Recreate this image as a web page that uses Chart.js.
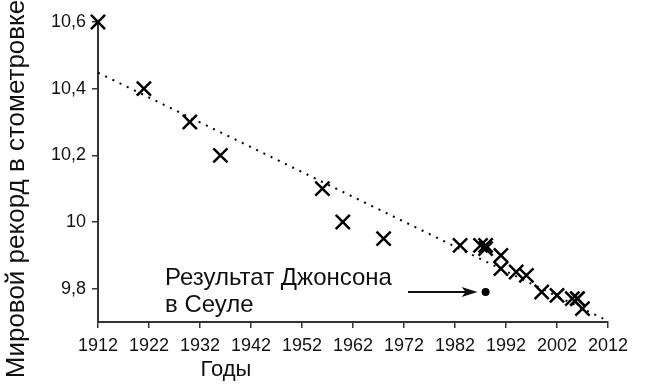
<!DOCTYPE html>
<html>
<head>
<meta charset="utf-8">
<script src="https://cdn.jsdelivr.net/npm/chart.js@4"></script>
<style>
  html, body { margin: 0; padding: 0; background: #fff; }
  #wrap { width: 650px; height: 390px; }
</style>
</head>
<body>
<div id="wrap"><canvas id="chart"></canvas></div>
<script>
// Мировые рекорды в беге на 100 м
const recordYears = [1912, 1921, 1930, 1936, 1956, 1960, 1968, 1983, 1987, 1988, 1988, 1991, 1991, 1994, 1996, 1999, 2002, 2005, 2006, 2006, 2007];
const recordTimes = [10.6, 10.4, 10.3, 10.2, 10.1, 10.0, 9.95, 9.93, 9.93, 9.92, 9.93, 9.90, 9.86, 9.85, 9.84, 9.79, 9.78, 9.77, 9.77, 9.77, 9.74];

// Линия тренда
const trendYears = [1912, 2012];
const trendTimes = [10.448, 9.703];

// Результат Джонсона в Сеуле
const johnsonYear = [1988];
const johnsonTime = [9.79];

const yTickValues = [9.8, 10.0, 10.2, 10.4, 10.6];
const yTickLabels = ['9,8', '10', '10,2', '10,4', '10,6'];

const xTitle = 'Годы';
const yTitle = 'Мировой рекорд в стометровке';
const noteLines = ['Результат Джонсона', 'в Сеуле'];

const FONT = "'Liberation Sans', Arial, sans-serif";
const AXIS_COLOR = '#333';

// Подписи осей и аннотация
const labelsPlugin = {
  id: 'labels',
  afterDraw(chart) {
    const ctx = chart.ctx;
    const xs = chart.scales.x;
    const ys = chart.scales.y;
    ctx.save();
    ctx.fillStyle = '#111';

    // подпись оси X
    ctx.font = '22px ' + FONT;
    ctx.textAlign = 'center';
    ctx.textBaseline = 'middle';
    ctx.fillText(xTitle, 226, 370);

    // подпись оси Y
    ctx.save();
    ctx.font = '26px ' + FONT;
    ctx.translate(17, 189);
    ctx.rotate(-Math.PI / 2);
    ctx.fillText(yTitle, 0, 0);
    ctx.restore();

    // аннотация
    ctx.font = '24px ' + FONT;
    ctx.textAlign = 'left';
    ctx.fillText(noteLines[0], 165, 278);
    ctx.fillText(noteLines[1], 165, 305);

    // стрелка к точке
    const px = xs.getPixelForValue(johnsonYear[0]);
    const py = ys.getPixelForValue(johnsonTime[0]);
    const endX = px - 8;
    ctx.strokeStyle = '#111';
    ctx.lineWidth = 2;
    ctx.beginPath();
    ctx.moveTo(408, py);
    ctx.lineTo(endX - 8, py);
    ctx.stroke();
    ctx.beginPath();
    ctx.moveTo(endX, py);
    ctx.lineTo(endX - 16, py - 5);
    ctx.lineTo(endX - 12, py);
    ctx.lineTo(endX - 16, py + 5);
    ctx.closePath();
    ctx.fill();
    ctx.restore();
  }
};

new Chart(document.getElementById('chart'), {
  type: 'scatter',
  data: {
    datasets: [
      {
        label: 'Рекорды',
        data: recordYears.map((x, i) => ({ x, y: recordTimes[i] })),
        pointStyle: 'crossRot',
        pointRadius: 10,
        pointBorderWidth: 2.5,
        borderColor: '#000',
        backgroundColor: '#000',
        clip: false
      },
      {
        label: 'Тренд',
        type: 'line',
        data: trendYears.map((x, i) => ({ x, y: trendTimes[i] })),
        borderColor: '#000',
        borderWidth: 2,
        borderDash: [2, 6],
        pointRadius: 0,
        fill: false,
        clip: false
      },
      {
        label: 'Джонсон',
        data: johnsonYear.map((x, i) => ({ x, y: johnsonTime[i] })),
        pointStyle: 'circle',
        pointRadius: 4,
        borderWidth: 0,
        backgroundColor: '#000',
        clip: false
      }
    ]
  },
  options: {
    responsive: true,
    maintainAspectRatio: false,
    animation: false,
    layout: {
      padding: { top: 22, right: 42, left: 0, bottom: 0 }
    },
    plugins: {
      legend: { display: false },
      tooltip: { enabled: false }
    },
    scales: {
      x: {
        type: 'linear',
        min: 1912,
        max: 2012,
        afterFit: (scale) => { scale.height = 68; },
        ticks: {
          stepSize: 10,
          padding: 7,
          color: '#111',
          font: { family: FONT, size: 18 },
          callback: (v) => String(v),
          maxRotation: 0
        },
        grid: {
          drawOnChartArea: false,
          drawTicks: true,
          tickLength: 6,
          tickColor: AXIS_COLOR,
          lineWidth: 1.5
        },
        border: { color: AXIS_COLOR, width: 2 }
      },
      y: {
        min: 9.7,
        max: 10.6,
        afterFit: (scale) => { scale.width = 98; },
        afterBuildTicks: (scale) => {
          scale.ticks = yTickValues.map(v => ({ value: v }));
        },
        ticks: {
          padding: 6,
          color: '#111',
          font: { family: FONT, size: 18 },
          callback: (v) => yTickLabels[yTickValues.findIndex(t => Math.abs(t - v) < 1e-6)]
        },
        grid: {
          drawOnChartArea: false,
          drawTicks: true,
          tickLength: 6,
          tickColor: AXIS_COLOR,
          lineWidth: 1.5
        },
        border: { color: AXIS_COLOR, width: 2 }
      }
    }
  },
  plugins: [labelsPlugin]
});
</script>
</body>
</html>
